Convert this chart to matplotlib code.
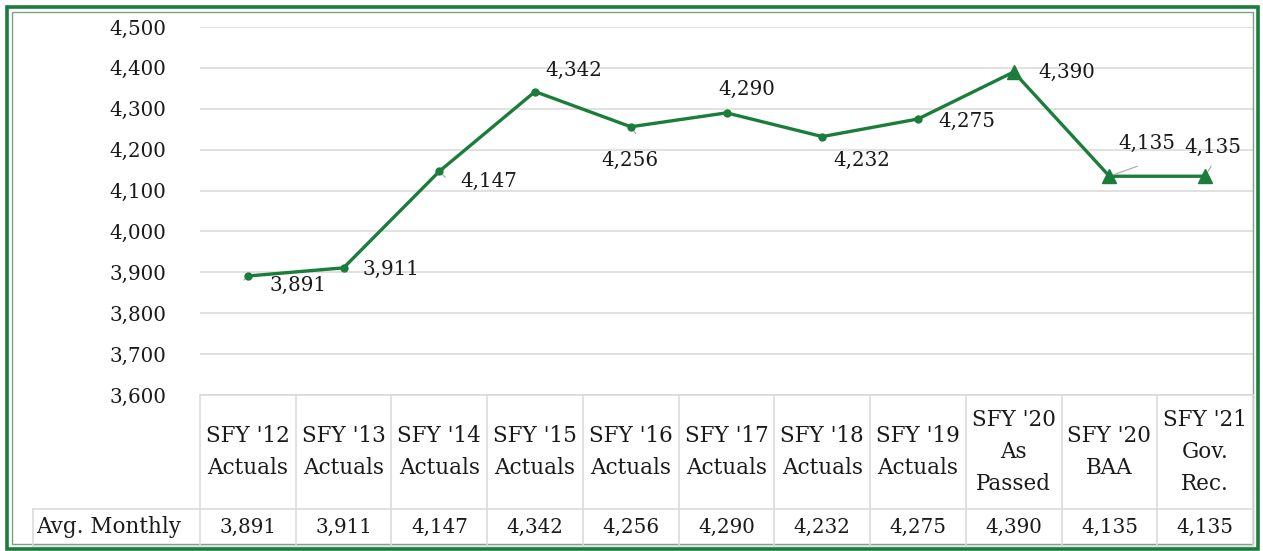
import matplotlib
matplotlib.use("Agg")
import matplotlib.pyplot as plt
from matplotlib.patches import Rectangle
from matplotlib.lines import Line2D

categories = ["SFY '12\nActuals", "SFY '13\nActuals", "SFY '14\nActuals", "SFY '15\nActuals",
              "SFY '16\nActuals", "SFY '17\nActuals", "SFY '18\nActuals", "SFY '19\nActuals",
              "SFY '20\nAs\nPassed", "SFY '20\nBAA", "SFY '21\nGov.\nRec."]
values = [3891, 3911, 4147, 4342, 4256, 4290, 4232, 4275, 4390, 4135, 4135]
is_projection = [False] * 8 + [True] * 3
row_label = "Avg. Monthly"
yticks = [3600, 3700, 3800, 3900, 4000, 4100, 4200, 4300, 4400, 4500]

# label offsets in pixels (dx, dy) -- styling only
label_offsets = [(50, -9), (47, -2), (49, -10), (39, 21), (-1, -34), (20, 23),
                 (40, -24), (49, -2), (53, 0), (37, 33), (8, 29)]

FONT = "DejaVu Serif"
FS = 14.3
FS_T = 15.5
GREEN = "#1b7d3a"
GRID = "#d9d9d9"
TXT = "#1a1a1a"

W, H = 1263, 551
fig = plt.figure(figsize=(W / 100, H / 100), dpi=100)

def fx(x):
    return x / W

def fy(y):
    return 1 - y / H

L, R, T, B = 200, 1253, 27, 395
ax = fig.add_axes([fx(L), fy(B), (R - L) / W, (B - T) / H])
n = len(values)
xs = [i + 0.5 for i in range(n)]
ax.set_xlim(0, n)
ax.set_ylim(3600, 4500)
ax.set_yticks(yticks)
ax.set_yticklabels([f"{v:,}" for v in yticks], fontfamily=FONT, fontsize=FS, color=TXT)
ax.tick_params(axis="y", length=0, pad=24)
ax.set_xticks([])
for s in ax.spines.values():
    s.set_visible(False)
for v in yticks:
    ax.axhline(v, color=GRID, lw=1.1, zorder=0)

ax.plot(xs, values, color=GREEN, lw=2.4, zorder=3, solid_joinstyle="round")
cx = [x for x, p in zip(xs, is_projection) if not p]
cy = [v for v, p in zip(values, is_projection) if not p]
px_ = [x for x, p in zip(xs, is_projection) if p]
py_ = [v for v, p in zip(values, is_projection) if p]
ax.plot(cx, cy, "o", color=GREEN, ms=5, zorder=4)
ax.plot(px_, py_, "^", color=GREEN, ms=10, zorder=4)

for x, v, (dx, dy) in zip(xs, values, label_offsets):
    ax.annotate(f"{v:,}", (x, v), xytext=(dx * 0.72, dy * 0.72), textcoords="offset points",
                ha="center", va="center", fontfamily=FONT, fontsize=FS, color=TXT, zorder=5)

# leader lines for a few labels
leaders = {0: (-4, -4), 2: (6, -6), 4: (5, -7), 9: (28, 10), 10: (6, 10)}
for i, (lx, ly) in leaders.items():
    ax.annotate("", (xs[i], values[i]), xytext=(lx * 0.72, ly * 0.72), textcoords="offset points",
                arrowprops=dict(arrowstyle="-", color="#a6a6a6", lw=0.8, shrinkA=0, shrinkB=0))

# data table
tf = fig.transFigure
colw = (R - L) / n
hdr_top, hdr_bot, row_bot = 395, 509, 546
lines = []
lines.append(((fx(L), fx(R)), (fy(hdr_top), fy(hdr_top))))
lines.append(((fx(33), fx(R)), (fy(hdr_bot), fy(hdr_bot))))
lines.append(((fx(33), fx(R)), (fy(row_bot), fy(row_bot))))
lines.append(((fx(33), fx(33)), (fy(hdr_bot), fy(row_bot))))
for i in range(n + 1):
    x = L + i * colw
    lines.append(((fx(x), fx(x)), (fy(hdr_top), fy(row_bot))))
for xx, yy in lines:
    fig.add_artist(Line2D(xx, yy, transform=tf, color=GRID, lw=1.1))

for i, (c, v) in enumerate(zip(categories, values)):
    xc = L + (i + 0.5) * colw
    fig.text(fx(xc), fy(452), c, ha="center", va="center", fontfamily=FONT, fontsize=FS_T,
             linespacing=1.58, color=TXT)
    fig.text(fx(xc), fy(527), f"{v:,}", ha="center", va="center", fontfamily=FONT,
             fontsize=FS, color=TXT)
fig.text(fx(36), fy(527), row_label, ha="left", va="center", fontfamily=FONT,
         fontsize=FS_T, color=TXT)

# green double border
fig.add_artist(Rectangle((fx(6.5), fy(548.5)), fx(1257.5 - 6.5), (548.5 - 6.5) / H,
                         transform=tf, fill=False, ec=GREEN, lw=2.6))
fig.add_artist(Rectangle((fx(11.5), fy(543.5)), fx(1252.5 - 11.5), (543.5 - 11.5) / H,
                         transform=tf, fill=False, ec="#7f9f86", lw=1.0))

fig.savefig("out.png", dpi=100)
